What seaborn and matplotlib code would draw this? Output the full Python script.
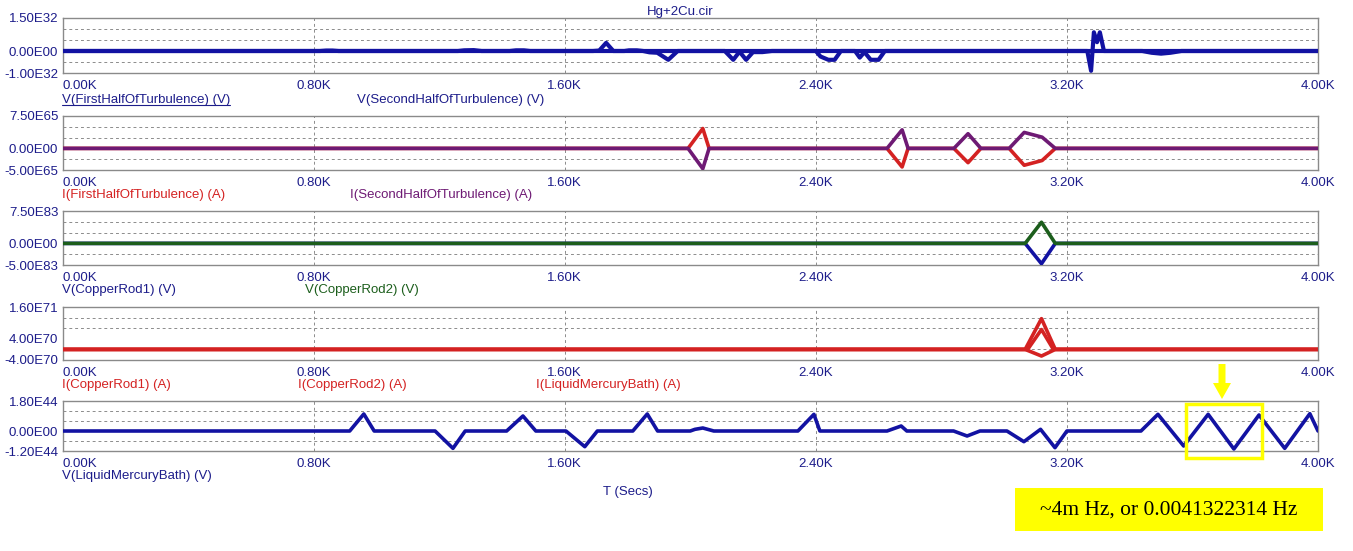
import numpy as np
import pandas as pd
import matplotlib
matplotlib.use("Agg")
import matplotlib.pyplot as plt
from matplotlib.patches import Rectangle, FancyArrow
from matplotlib.lines import Line2D
import seaborn as sns

# ── Data (time in seconds, values in units of the panel scale) ──────────────
X_TICKS = [0, 800, 1600, 2400, 3200, 4000]
X_LABELS = ["0.00K", "0.80K", "1.60K", "2.40K", "3.20K", "4.00K"]

# panel 1: volts, x1e32
v_first_t = [0, 820, 840, 860, 880, 1260, 1280, 1310, 1335, 1425, 1445, 1470, 1490,
             1690, 1710, 1732, 1755, 1790, 1805, 1830, 1850, 1870, 1895, 1930, 1960, 4000]
v_first_v = [0, 0, 0.02, 0.02, 0, 0, 0.03, 0.04, 0, 0, 0.03, 0.03, 0,
             0, 0.02, 0.37, 0, 0, 0.03, 0.03, 0, -0.06, -0.08, -0.4, 0, 0]
v_second_t = [0, 2110, 2137, 2157, 2178, 2200, 2230, 2260, 2400, 2415, 2440, 2460, 2480,
              2525, 2540, 2555, 2575, 2600, 2620, 3265, 3277, 3286, 3296, 3305, 3318,
              3440, 3470, 3500, 3530, 3565, 4000]
v_second_v = [0, 0, -0.4, -0.03, -0.4, -0.05, -0.05, 0, 0, -0.25, -0.4, -0.4, 0,
              0, -0.3, -0.05, -0.4, -0.4, 0, 0, -0.9, 0.85, 0.4, 0.85, 0,
              0, -0.08, -0.12, -0.08, 0, 0]

# panel 2: amps, x1e65
i_turb_t = [0, 1993, 2040, 2060, 2627, 2675, 2694, 2840, 2885, 2926, 3016, 3064, 3121, 3163, 4000]
i_first_v = [0, 0, 4.6, 0, 0, -4.3, 0, 0, -3.3, 0, 0, -3.9, -2.8, 0, 0]
i_second_v = [0, 0, -4.7, 0, 0, 4.3, 0, 0, 3.4, 0, 0, 3.7, 2.6, 0, 0]

# panel 3: volts, x1e83
rod_t = [0, 3067, 3119, 3163, 4000]
v_rod1_v = [0, 0, -4.7, 0, 0]
v_rod2_v = [0, 0, 4.9, 0, 0]

# panel 4: amps, x1e70
i_rod1_v = [0, 0, 11.6, 0, 0]
i_rod2_v = [0, 0, -2.5, 0, 0]
i_bath_t = [0, 3075, 3119, 3157, 4000]
i_bath_v = [0, 0, 7.5, 0, 0]

# panel 5: volts, x1e44
v_bath_t = [0, 915, 960, 993, 1187, 1244, 1283, 1415, 1467, 1508, 1604, 1664, 1704,
            1817, 1863, 1896, 2000, 2015, 2040, 2075, 2343, 2394, 2413, 2627, 2672, 2690,
            2839, 2882, 2923, 3009, 3063, 3116, 3162, 3200, 3436, 3490, 3572, 3650,
            3732, 3812, 3894, 3974, 4000]
v_bath_v = [0, 0, 1.02, 0, 0, -1.04, 0, 0, 0.9, 0, 0, -0.94, 0,
            0, 1.02, 0, 0, 0.1, 0.18, 0, 0, 1.0, 0, 0, 0.3, 0,
            0, -0.3, 0, 0, -0.64, 0.1, -1.0, 0, 0, 1.0, -0.9, 1.0,
            -1.08, 0.96, -1.04, 1.04, 0]

# y ranges / labels per panel
Y_RANGES = [(-1.0, 1.5), (-5.0, 7.5), (-5.0, 7.5), (-4.0, 16.0), (-1.2, 1.8)]
Y_TICKS = [[1.5, 0, -1.0], [7.5, 0, -5.0], [7.5, 0, -5.0], [16.0, 4.0, -4.0], [1.8, 0, -1.2]]
Y_LABELS = [["1.50E32", "0.00E00", "-1.00E32"],
            ["7.50E65", "0.00E00", "-5.00E65"],
            ["7.50E83", "0.00E00", "-5.00E83"],
            ["1.60E71", "4.00E70", "-4.00E70"],
            ["1.80E44", "0.00E00", "-1.20E44"]]
Y_GRID_STEP = [0.5, 2.5, 2.5, 4.0, 0.6]

SERIES = [
    [("V(FirstHalfOfTurbulence) (V)", v_first_t, v_first_v),
     ("V(SecondHalfOfTurbulence) (V)", v_second_t, v_second_v)],
    [("I(FirstHalfOfTurbulence) (A)", i_turb_t, i_first_v),
     ("I(SecondHalfOfTurbulence) (A)", i_turb_t, i_second_v)],
    [("V(CopperRod1) (V)", rod_t, v_rod1_v),
     ("V(CopperRod2) (V)", rod_t, v_rod2_v)],
    [("I(CopperRod1) (A)", rod_t, i_rod1_v),
     ("I(CopperRod2) (A)", rod_t, i_rod2_v),
     ("I(LiquidMercuryBath) (A)", i_bath_t, i_bath_v)],
    [("V(LiquidMercuryBath) (V)", v_bath_t, v_bath_v)],
]

# ── Styling / layout ─────────────────────────────────────────────────────────
NAVY = "#1c1c8a"
BLUE = "#1212a2"
RED = "#d42222"
PURPLE = "#6e1a74"
GREEN = "#1c5e1c"
YELLOW = "#ffff00"

COLORS = [[BLUE, BLUE], [RED, PURPLE], [BLUE, GREEN], [RED, RED, RED], [BLUE]]
LINE_W = [3.0, 2.6, 2.6, 2.6, 2.6]
LEGEND_X = [[62, 357], [62, 350], [62, 305], [62, 298, 536], [62]]
LEGEND_COLORS = [[NAVY, NAVY], [RED, PURPLE], [NAVY, GREEN], [RED, RED, RED], [NAVY]]
LEGEND_Y = [100, 195, 290, 385, 476]
PANEL_PX = [(18, 73), (116, 170), (211, 265), (307, 360), (401, 451)]

W, H = 1353, 551
LEFT, RIGHT = 62.5, 1318

sns.set_theme(style="white")
plt.rcParams["font.family"] = ["Liberation Sans", "DejaVu Sans"]
FS = 9.5

fig = plt.figure(figsize=(W / 100, H / 100), dpi=100)
fig.patch.set_facecolor("white")


def fx(px):
    return px / W


def fy(py):
    return 1 - py / H


axes = []
for i, (top, bot) in enumerate(PANEL_PX):
    ax = fig.add_axes([fx(LEFT), fy(bot), fx(RIGHT - LEFT), (bot - top) / H])
    axes.append(ax)
    rows = []
    for name, t, v in SERIES[i]:
        rows += [{"t": a, "v": b, "series": name} for a, b in zip(t, v)]
    df = pd.DataFrame(rows)
    names = [s[0] for s in SERIES[i]]
    sns.lineplot(data=df, x="t", y="v", hue="series", hue_order=names,
                 palette=dict(zip(names, COLORS[i])), estimator=None, sort=False,
                 legend=False, lw=LINE_W[i], ax=ax, zorder=3)
    lo, hi = Y_RANGES[i]
    ax.set_xlim(0, 4000)
    ax.set_ylim(lo, hi)
    ax.set_xlabel("")
    ax.set_ylabel("")
    ax.set_xticks(X_TICKS)
    ax.set_xticklabels(X_LABELS)
    ax.set_yticks(Y_TICKS[i])
    ax.set_yticklabels(Y_LABELS[i])
    step = Y_GRID_STEP[i]
    ax.set_yticks(np.arange(lo + step, hi - step / 2, step), minor=True)
    ax.tick_params(axis="both", which="both", length=0, labelsize=FS, colors=NAVY)
    ax.tick_params(axis="y", pad=3)
    ax.tick_params(axis="x", pad=5)
    ax.grid(False)
    ax.grid(axis="x", which="major", color="#8c8c8c", lw=0.7, ls=(0, (3, 3)))
    ax.grid(axis="y", which="minor", color="#8c8c8c", lw=0.7, ls=(0, (3, 3)))
    for s in ax.spines.values():
        s.set_color("#8a8a8a")
        s.set_linewidth(1.0)
    xl = ax.get_xticklabels()
    xl[0].set_horizontalalignment("left")

    for (name, _, _), lx, lc in zip(SERIES[i], LEGEND_X[i], LEGEND_COLORS[i]):
        fig.text(fx(lx), fy(LEGEND_Y[i]), name, color=lc, fontsize=FS,
                 ha="left", va="center")

# title and axis name
fig.text(fx(680), fy(12), "Hg+2Cu.cir", color=NAVY, fontsize=FS, ha="center", va="center")
fig.text(fx(628), fy(492), "T (Secs)", color=NAVY, fontsize=FS, ha="center", va="center")

# underline for the first legend entry
fig.canvas.draw()
first_lbl = [t for t in fig.texts if t.get_text() == SERIES[0][0][0]][0]
bb = first_lbl.get_window_extent()
fig.add_artist(Line2D([bb.x0 / W, bb.x1 / W], [(bb.y0 + 1) / H, (bb.y0 + 1) / H],
                      color=NAVY, lw=0.8, transform=fig.transFigure))

# yellow annotation: box around one period, arrow and caption
fig.add_artist(Rectangle((fx(1186), fy(458)), fx(1262 - 1186), (458 - 404) / H,
                         transform=fig.transFigure, fill=False, ec=YELLOW, lw=2.5,
                         zorder=10))
# arrow drawn in inches so the head keeps its shape
fig.add_artist(FancyArrow(12.22, (H - 364) / 100, 0, -0.19,
                          width=0.07, head_width=0.18, head_length=0.16,
                          length_includes_head=False, transform=fig.dpi_scale_trans,
                          color=YELLOW, lw=0, zorder=10))
fig.add_artist(Rectangle((fx(1015), fy(531)), fx(1323 - 1015), (531 - 488) / H,
                         transform=fig.transFigure, fc=YELLOW, ec="none", zorder=9))
fig.text(fx(1169), fy(510), "~4m Hz, or 0.0041322314 Hz", family="Liberation Serif",
         fontsize=15.5, color="black", ha="center", va="center", zorder=11)

fig.savefig("out.png", dpi=100, facecolor="white")
